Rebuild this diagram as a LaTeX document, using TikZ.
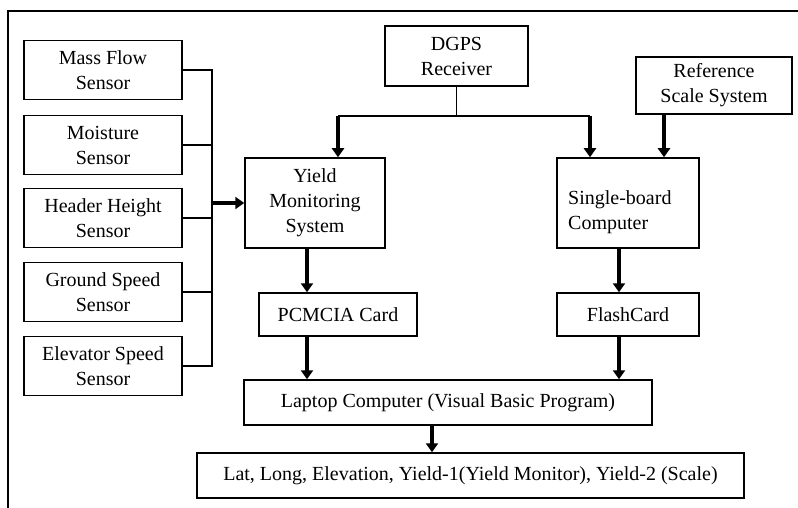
\documentclass[tikz,border=0pt]{standalone}
\usepackage{fontspec}
\setmainfont{Liberation Serif}
\usetikzlibrary{arrows.meta,calc,positioning}

\begin{document}
\begin{tikzpicture}[x=1pt,y=-1pt,
  txt/.style={align=center,inner sep=2pt,font=\rmfamily\fontsize{20}{25}\selectfont},
  box/.style={txt,draw,line width=1.5pt},
  sensor/.style={box,minimum width=158pt,minimum height=59pt},
  wire/.style={line width=1.5pt},
  arr/.style={-{Triangle[length=9pt,width=12pt]},line width=4pt}
]
\useasboundingbox (0,0) rectangle (798,508);
\draw[line width=1.2pt] (798,11) -- (8,11) -- (8,508);

\node[sensor] (mf) at (103,70) {Mass Flow\\Sensor};
\node[sensor] (mo) at (103,145) {Moisture\\Sensor};
\node[sensor] (hh) at (103,218) {Header Height\\Sensor};
\node[sensor] (gs) at (103,292) {Ground Speed\\Sensor};
\node[sensor] (es) at (103,366) {Elevator Speed\\Sensor};

\node[box,minimum width=143pt,minimum height=60pt] (dgps) at (456.5,56) {DGPS\\Receiver};
\node[box,minimum width=156pt,minimum height=57pt] (ref) at (714,85.5) {Reference\\Scale System};
\node[box,minimum width=140pt,minimum height=90pt] (yms) at (315,203) {Yield\\Monitoring\\System};
\node[box,minimum width=142pt,minimum height=90pt] (sbc) at (628,203) {};
\node[txt,align=left,anchor=west] (sbct) at (566,212) {Single-board\\Computer};
\node[box,minimum width=158pt,minimum height=43pt] (pc) at (338,314.5) {PCMCIA Card};
\node[box,minimum width=142pt,minimum height=43pt] (fc) at (628,314.5) {FlashCard};
\node[box,minimum width=408pt,minimum height=45pt] (lap) at (448,402.5) {Laptop Computer (Visual Basic Program)};
\node[box,minimum width=547pt,minimum height=45pt] (out) at (470.5,475.5) {Lat, Long, Elevation, Yield-1(Yield Monitor), Yield-2 (Scale)};

\coordinate (bus) at (212,203);
\foreach \s in {mf,mo,hh,gs,es}
  \draw[wire] (\s.east) -| (bus);
\draw[arr] (bus) -- (yms.west);

\coordinate (gl) at (338,116);
\coordinate (gr) at (590,116);
\draw[wire] (dgps.south) -- (dgps.south |- gl);
\draw[wire] (gl) -- (gr);
\draw[arr] (gl) -- (gl |- yms.north);
\draw[arr] (gr) -- (gr |- sbc.north);

\coordinate (sc) at (664,0);
\coordinate (lc) at (307,0);
\coordinate (rc) at (619,0);
\coordinate (oc) at (432,0);
\draw[arr] (ref.south -| sc) -- (sbc.north -| sc);
\draw[arr] (yms.south -| lc) -- (pc.north -| lc);
\draw[arr] (pc.south -| lc) -- (lap.north -| lc);
\draw[arr] (sbc.south -| rc) -- (fc.north -| rc);
\draw[arr] (fc.south -| rc) -- (lap.north -| rc);
\draw[arr] (lap.south -| oc) -- (out.north -| oc);
\end{tikzpicture}
\end{document}
